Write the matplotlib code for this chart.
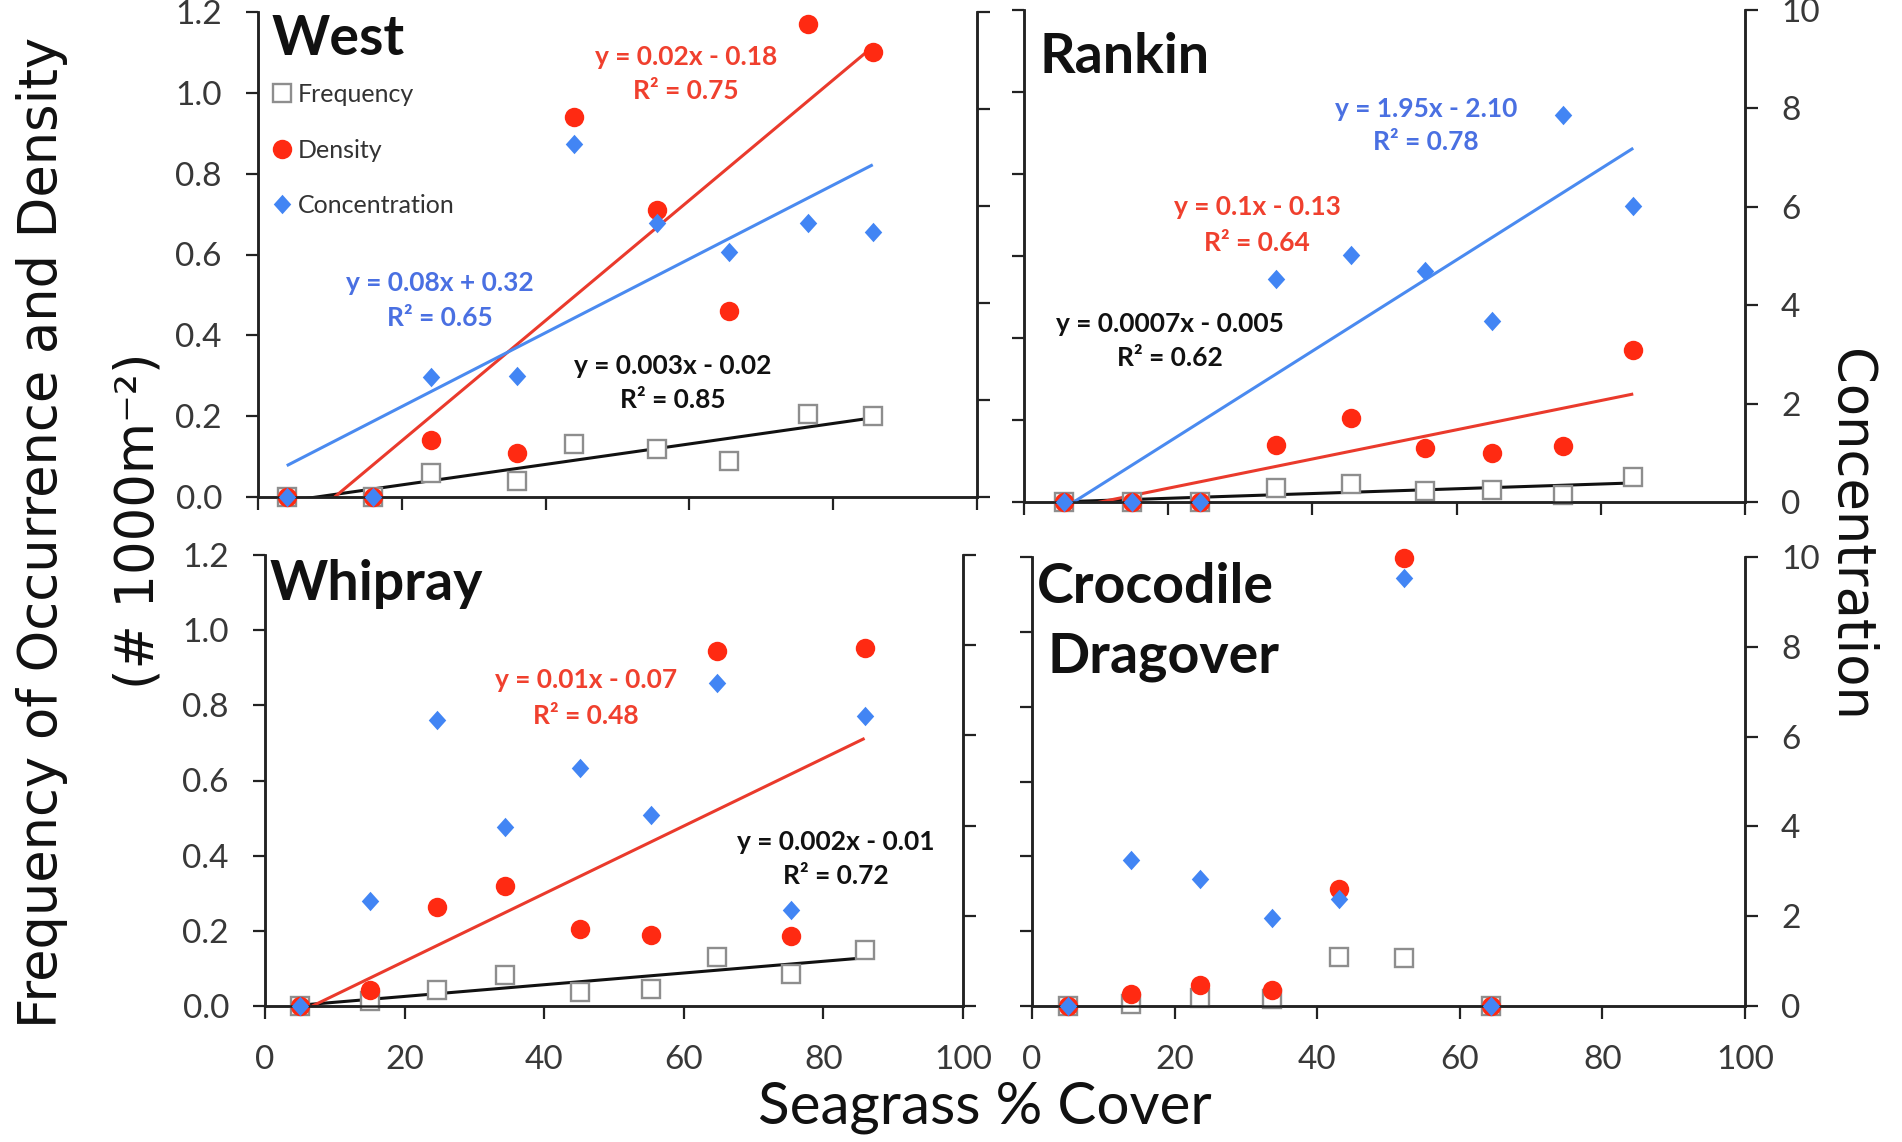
import numpy as np
import matplotlib
matplotlib.use('Agg')
import matplotlib.pyplot as plt
from matplotlib.path import Path
from matplotlib.lines import Line2D

# ---------------- data ----------------
west_x = [4, 16, 24, 36, 44, 55.5, 65.5, 76.5, 85.5]
west_freq = [0, 0, 0.06, 0.04, 0.13, 0.12, 0.09, 0.205, 0.20]
west_dens = [0, 0, 0.14, 0.11, 0.94, 0.71, 0.46, 1.17, 1.10]
west_conc = [0, 0, 2.48, 2.50, 7.27, 5.65, 5.05, 5.65, 5.46]

rankin_x = [5.5, 15, 24.4, 35, 45.3, 55.6, 64.9, 74.8, 84.5]
rankin_freq = [0, 0, 0, 0.035, 0.043, 0.026, 0.030, 0.017, 0.061]
rankin_dens = [0, 0, 0, 0.139, 0.206, 0.132, 0.119, 0.137, 0.371]
rankin_conc = [0, 0, 0, 4.53, 5.02, 4.69, 3.67, 7.86, 6.01]

whip_x = [5, 15, 24.7, 34.4, 45.2, 55.3, 64.8, 75.4, 85.9]
whip_freq = [0, 0.013, 0.042, 0.082, 0.036, 0.044, 0.131, 0.085, 0.148]
whip_dens = [0, 0.042, 0.264, 0.318, 0.206, 0.189, 0.944, 0.187, 0.952]
whip_conc = [0, 2.33, 6.34, 3.97, 5.28, 4.24, 7.16, 2.13, 6.44]

croc_x = [5.1, 13.9, 23.5, 33.6, 43.1, 52.2, 64.4]
croc_freq = [0, 0.005, 0.021, 0.019, 0.132, 0.127, 0]
croc_dens = [0, 0.031, 0.057, 0.044, 0.314, 1.197, 0]
croc_conc = [0, 3.26, 2.83, 1.95, 2.38, 9.54, 0]

left_ticks = [0.0, 0.2, 0.4, 0.6, 0.8, 1.0, 1.2]
right_ticks = [0, 2, 4, 6, 8, 10]
x_ticks = [0, 20, 40, 60, 80, 100]

series_labels = ['Frequency', 'Density', 'Concentration']

west_eq = {'dens': ('y = 0.02x - 0.18', 'R² = 0.75'),
           'conc': ('y = 0.08x + 0.32', 'R² = 0.65'),
           'freq': ('y = 0.003x - 0.02', 'R² = 0.85')}
rankin_eq = {'conc': ('y = 1.95x - 2.10', 'R² = 0.78'),
             'dens': ('y = 0.1x - 0.13', 'R² = 0.64'),
             'freq': ('y = 0.0007x - 0.005', 'R² = 0.62')}
whip_eq = {'dens': ('y = 0.01x - 0.07', 'R² = 0.48'),
           'freq': ('y = 0.002x - 0.01', 'R² = 0.72')}

# ---------------- style ----------------
RED = '#FF2A12'
RED_LINE = '#EA3A2C'
RED_TXT = '#F0402E'
BLUE = '#4285F4'
BLUE_LINE = '#4A8AF0'
BLUE_TXT = '#4A70E2'
SPINE = '#222222'
TICKC = '#383838'

W, H = 1902, 1142
fig = plt.figure(figsize=(W / 100, H / 100), dpi=100)

diamond = Path([(0, 1), (0.9, 0), (0, -1), (-0.9, 0), (0, 1)],
               [Path.MOVETO, Path.LINETO, Path.LINETO, Path.LINETO, Path.CLOSEPOLY])

SQ = dict(marker='s', ms=12.5, mfc='white', mec='#8E8E8E', mew=1.7)
CI = dict(marker='o', ms=14, mfc=RED, mec=RED, mew=0)
DI = dict(marker=diamond, ms=14, mfc=BLUE, mec=BLUE, mew=0)

TICKFONT = dict(family=['Lato', 'DejaVu Sans'], size=24)


def px_axes(x0, x1, ytop, ybot):
    return fig.add_axes([x0 / W, 1 - ybot / H, (x1 - x0) / W, (ybot - ytop) / H])


def fx(x):
    return x / W


def fy(y):
    return 1 - y / H


def make_panel(box, show_left, show_right, show_x):
    ax = px_axes(*box)
    ax.set_xlim(0, 100)
    ax.set_ylim(0, 1.2)
    ax2 = ax.twinx()
    ax2.set_ylim(0, 10)
    for a in (ax, ax2):
        a.spines['top'].set_visible(False)
        for s in a.spines.values():
            s.set_linewidth(1.8)
            s.set_color(SPINE)
        a.tick_params(direction='out', length=9, width=1.6, color=SPINE,
                      labelcolor=TICKC, pad=17)
    ax.set_xticks(x_ticks)
    ax.set_yticks(left_ticks)
    ax2.set_yticks(right_ticks)
    ax.set_yticklabels([f'{v:.1f}' for v in left_ticks] if show_left else [],
                       **TICKFONT)
    ax2.set_yticklabels([f'{v}' for v in right_ticks] if show_right else [],
                        **TICKFONT)
    ax.set_xticklabels([f'{v}' for v in x_ticks] if show_x else [], **TICKFONT)
    ax.tick_params(axis='x', pad=19)
    return ax, ax2


def draw_points(ax, ax2, x, freq, dens, conc):
    ax.plot(x, freq, ls='none', clip_on=False, zorder=3, **SQ)
    ax.plot(x, dens, ls='none', clip_on=False, zorder=4, **CI)
    ax2.plot(x, conc, ls='none', clip_on=False, zorder=5, **DI)


def trend(ax, x, y, color):
    x = np.asarray(x, float)
    y = np.asarray(y, float)
    m, b = np.polyfit(x, y, 1)
    xs = np.array([x.min(), x.max()])
    ax.plot(xs, m * xs + b, color=color, lw=2.2, zorder=2, solid_capstyle='butt')


def eq_text(x, y1, y2, lines, color):
    kw = dict(ha='center', va='center', color=color, fontsize=19,
              fontweight='bold', family=['Lato', 'DejaVu Sans'])
    fig.text(fx(x), fy(y1), lines[0], **kw)
    fig.text(fx(x), fy(y2), lines[1], **kw)


TITLE = dict(fontsize=40, fontweight='bold', family=['Lato', 'DejaVu Sans'],
             color='#111111', ha='left', va='baseline')

# ---- West ----
ax, ax2 = make_panel((258, 977, 12, 497), True, False, False)
trend(ax, west_x, west_freq, '#111111')
trend(ax, west_x, west_dens, RED_LINE)
trend(ax2, west_x, west_conc, BLUE_LINE)
draw_points(ax, ax2, west_x, west_freq, west_dens, west_conc)
fig.text(fx(272), fy(55), 'West', **TITLE)
eq_text(686, 57, 91, west_eq['dens'], RED_TXT)
eq_text(440, 283, 318, west_eq['conc'], BLUE_TXT)
eq_text(673, 366, 400, west_eq['freq'], '#111111')
handles = [Line2D([], [], ls='none', **SQ),
           Line2D([], [], ls='none', **CI),
           Line2D([], [], ls='none', **DI)]
leg = fig.legend(handles, series_labels, loc='center left',
                 bbox_to_anchor=(fx(272), fy(150)), frameon=False,
                 handlelength=0.8, handletextpad=0.25, labelspacing=1.3,
                 borderpad=0, borderaxespad=0,
                 prop=dict(family=['Lato', 'DejaVu Sans'], size=18))
for t in leg.get_texts():
    t.set_color('#333333')

# ---- Rankin ----
ax, ax2 = make_panel((1024, 1745, 10, 502), False, True, False)
trend(ax, rankin_x, rankin_freq, '#111111')
trend(ax, rankin_x, rankin_dens, RED_LINE)
trend(ax2, rankin_x, rankin_conc, BLUE_LINE)
draw_points(ax, ax2, rankin_x, rankin_freq, rankin_dens, rankin_conc)
fig.text(fx(1040), fy(73), 'Rankin', **TITLE)
eq_text(1426, 109, 142, rankin_eq['conc'], BLUE_TXT)
eq_text(1257, 207, 243, rankin_eq['dens'], RED_TXT)
eq_text(1170, 324, 358, rankin_eq['freq'], '#111111')

# ---- Whipray ----
ax, ax2 = make_panel((265, 963, 555, 1006), True, False, True)
trend(ax, whip_x, whip_freq, '#111111')
trend(ax, whip_x, whip_dens, RED_LINE)
draw_points(ax, ax2, whip_x, whip_freq, whip_dens, whip_conc)
fig.text(fx(270), fy(600), 'Whipray', **TITLE)
eq_text(586, 680, 716, whip_eq['dens'], RED_TXT)
eq_text(836, 842, 876, whip_eq['freq'], '#111111')

# ---- Crocodile Dragover ----
ax, ax2 = make_panel((1032, 1745, 557, 1006), False, True, True)
draw_points(ax, ax2, croc_x, croc_freq, croc_dens, croc_conc)
fig.text(fx(1037), fy(603), 'Crocodile', **TITLE)
fig.text(fx(1047), fy(673), 'Dragover', **TITLE)

# ---- axis titles ----
LAB = dict(family=['DejaVu Sans'], size=38, color='#111111', ha='center', va='center')
fig.text(fx(42), fy(532), 'Frequency of Occurrence and Density', rotation=90, **LAB)
fig.text(fx(138), fy(521), '(# 1000m⁻²)', rotation=90, **LAB)
fig.text(fx(1850), fy(535), 'Concentration', rotation=270, **LAB)
fig.text(fx(985), fy(1108), 'Seagrass % Cover', ha='center', va='center',
         family=['Lato', 'DejaVu Sans'], size=42, color='#111111')

fig.savefig('out.png', dpi=100)
